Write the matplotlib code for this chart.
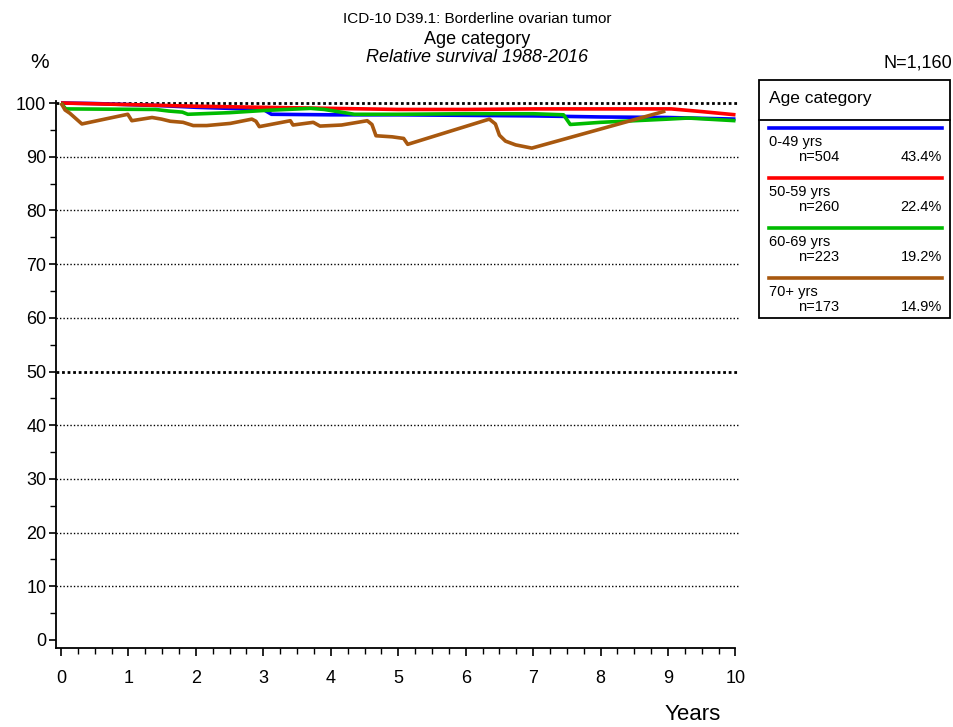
import matplotlib
matplotlib.use("Agg")
import matplotlib.pyplot as plt
from matplotlib.patches import Rectangle
from matplotlib.lines import Line2D
from matplotlib.ticker import MultipleLocator

plt.rcParams['font.family'] = ['Liberation Sans', 'DejaVu Sans']

# Relative survival (%) by age group, years since diagnosis
years_0_49 = [0, 0.5, 1, 1.5, 2, 2.5, 3.0, 3.12, 4, 5, 6, 7, 8, 9, 10]
surv_0_49 = [100, 99.9, 99.7, 99.5, 99.2, 99.0, 98.8, 97.9, 97.8, 97.8, 97.7, 97.6, 97.4, 97.3, 97.0]

years_50_59 = [0, 1, 2, 3, 4, 5, 6, 7, 8, 9.05, 9.5, 10]
surv_50_59 = [100, 99.7, 99.4, 99.2, 99.0, 98.8, 98.8, 98.9, 98.9, 98.9, 98.4, 97.8]

years_60_69 = [0, 0.07, 1.4, 1.6, 1.8, 1.88, 2.5, 3.0, 3.7, 3.9, 4.35, 5, 6, 7, 7.45, 7.55,
               8, 9, 9.3, 10]
surv_60_69 = [100, 98.9, 98.8, 98.5, 98.3, 97.9, 98.2, 98.6, 99.0, 98.8, 97.9, 97.9, 98.0, 98.0,
              97.8, 96.0, 96.4, 97.0, 97.2, 96.7]

years_70 = [0, 0.06, 0.13, 0.31, 0.99, 1.05, 1.35, 1.49, 1.62, 1.81, 1.96, 2.16, 2.51, 2.83,
            2.89, 2.94, 3.40, 3.44, 3.74, 3.84, 4.16, 4.54, 4.61, 4.67, 4.91, 5.08, 5.14, 6.35,
            6.44, 6.50, 6.59, 6.74, 6.98, 8.96]
surv_70 = [100, 98.7, 98.1, 96.1, 97.9, 96.7, 97.3, 97.0, 96.6, 96.4, 95.8, 95.8, 96.2, 97.0,
           96.6, 95.6, 96.7, 95.9, 96.4, 95.7, 95.9, 96.7, 96.0, 93.9, 93.7, 93.4, 92.3, 97.0,
           96.1, 94.0, 92.9, 92.2, 91.6, 98.5]

groups = ["0-49 yrs", "50-59 yrs", "60-69 yrs", "70+ yrs"]
counts = ["n=504", "n=260", "n=223", "n=173"]
shares = ["43.4%", "22.4%", "19.2%", "14.9%"]
colors = ["#0000FF", "#FF0000", "#00BB00", "#A8580F"]

series = [(years_0_49, surv_0_49), (years_50_59, surv_50_59),
          (years_60_69, surv_60_69), (years_70, surv_70)]

W, H = 954, 727
fig = plt.figure(figsize=(W / 100, H / 100), dpi=100)

# plot area in pixel units
x0_px, x10_px = 61.0, 735.5
y0_px, y100_px = 640.0, 103.0
sx = (x10_px - x0_px) / 10
sy = (y0_px - y100_px) / 100
left_px, bottom_px, top_px = 56.0, 648.0, 100.5
xmin = (left_px - x0_px) / sx
ymin = -(bottom_px - y0_px) / sy
ymax = (y0_px - top_px) / sy

ax = fig.add_axes([left_px / W, 1 - bottom_px / H,
                   (x10_px - left_px) / W, (bottom_px - top_px) / H])
ax.set_xlim(xmin, 10)
ax.set_ylim(ymin, ymax)

for s in ("top", "right"):
    ax.spines[s].set_visible(False)
for s in ("left", "bottom"):
    ax.spines[s].set_linewidth(1.3)

# dotted reference lines
for v in range(10, 101, 10):
    heavy = v in (50, 100)
    ax.hlines(v, xmin, 10.05, colors="black", linestyles=(0, (1, 1.5)) if not heavy else (0, (1, 1)),
              linewidth=2.0 if heavy else 1.0, clip_on=False, zorder=1)

for (xs, ys), c in zip(series, colors):
    ax.plot(xs, ys, color=c, linewidth=2.6, solid_joinstyle="round",
            solid_capstyle="butt", clip_on=False, zorder=3)

ax.xaxis.set_major_locator(MultipleLocator(1))
ax.xaxis.set_minor_locator(MultipleLocator(0.25))
ax.yaxis.set_major_locator(MultipleLocator(10))
ax.yaxis.set_minor_locator(MultipleLocator(5))
ax.set_xticks(range(0, 11))
ax.set_yticks(range(0, 101, 10))
ax.tick_params(axis="x", which="major", length=6, width=1.2, pad=10, labelsize=13)
ax.tick_params(axis="x", which="minor", length=4, width=1.0)
ax.tick_params(axis="y", which="major", length=5, width=1.2, pad=2, labelsize=13)
ax.tick_params(axis="y", which="minor", length=4, width=1.0)

# titles and axis captions
fig.text(0.5, 1 - 19 / H, "ICD-10 D39.1: Borderline ovarian tumor", ha="center", va="center", fontsize=11)
fig.text(0.5, 1 - 39 / H, "Age category", ha="center", va="center", fontsize=13)
fig.text(0.5, 1 - 57 / H, "Relative survival 1988-2016", ha="center", va="center",
         fontsize=13, style="italic")
fig.text(40 / W, 1 - 63 / H, "%", ha="center", va="center", fontsize=15)
fig.text(952 / W, 1 - 63 / H, "N=1,160", ha="right", va="center", fontsize=13)
fig.text(693 / W, 1 - 714 / H, "Years", ha="center", va="center", fontsize=16)

# legend panel drawn in pixel coordinates
lax = fig.add_axes([0, 0, 1, 1], facecolor="none")
lax.set_xlim(0, W)
lax.set_ylim(H, 0)
lax.axis("off")
lax.add_patch(Rectangle((759, 80), 191, 238, fill=False, edgecolor="black", linewidth=1.3))
lax.add_line(Line2D([759, 950], [120, 120], color="black", linewidth=1.3))
lax.text(769, 98, "Age category", ha="left", va="center", fontsize=12.5)
for i, (g, n, p, c) in enumerate(zip(groups, counts, shares, colors)):
    yl = 128 + 50 * i
    lax.add_line(Line2D([769, 942], [yl, yl], color=c, linewidth=2.6))
    lax.text(769, yl + 14, g, ha="left", va="center", fontsize=10.5)
    lax.text(798, yl + 29, n, ha="left", va="center", fontsize=10.5)
    lax.text(942, yl + 29, p, ha="right", va="center", fontsize=10.5)

fig.savefig("out.png", dpi=100)
